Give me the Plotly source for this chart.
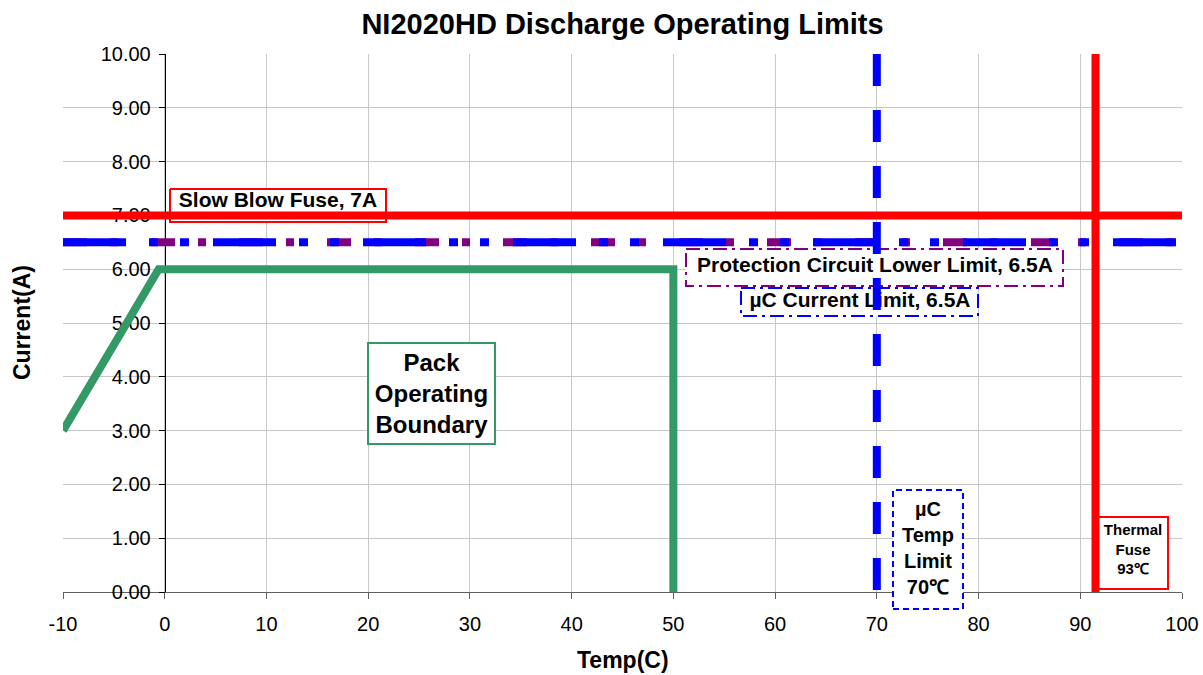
import plotly.graph_objects as go

# ---------------- data ----------------
temp_ticks = [-10, 0, 10, 20, 30, 40, 50, 60, 70, 80, 90, 100]
temp_tick_labels = ["-10", "0", "10", "20", "30", "40", "50", "60", "70", "80", "90", "100"]
current_ticks = [0, 1, 2, 3, 4, 5, 6, 7, 8, 9, 10]
current_tick_labels = ["0.00", "1.00", "2.00", "3.00", "4.00", "5.00",
                       "6.00", "7.00", "8.00", "9.00", "10.00"]

pack_temp = [-10, -0.6, 50, 50]
pack_current = [3.0, 6.0, 6.0, 0.0]

fuse_temp = [-10, 100]
fuse_current = [7.0, 7.0]

protection_temp = [-10, 100]
protection_current = [6.5, 6.5]

uc_limit_temp = [-10, 100]
uc_limit_current = [6.5, 6.5]

uc_temp_limit_temp = [70, 70]
uc_temp_limit_current = [10, 0]

thermal_temp = [91.5, 91.5]
thermal_current = [10, 0]

# ---------------- geometry helpers ----------------
W, H = 1203, 675
L, R, T, B = 63, 1182, 54, 592
XMIN, XMAX, YMIN, YMAX = -10, 100, 0, 10
FONT = "Arial, 'Liberation Sans', Helvetica, sans-serif"


def px2x(px):
    return XMIN + (px - L) / (R - L) * (XMAX - XMIN)


def px2y(py):
    return YMIN + (B - py) / (B - T) * (YMAX - YMIN)


def px2paper_x(px):
    return (px - L) / (R - L)


def px2paper_y(py):
    return (B - py) / (B - T)


fig = go.Figure()


def box_trace(x0, y0, x1, y1, color, dash, width=2):
    xs = [px2x(x0), px2x(x1), px2x(x1), px2x(x0), px2x(x0)]
    ys = [px2y(y0), px2y(y0), px2y(y1), px2y(y1), px2y(y0)]
    fig.add_trace(go.Scatter(x=xs, y=ys, mode="lines", fill="toself",
                             fillcolor="white",
                             line=dict(color=color, width=width, dash=dash),
                             hoverinfo="skip", showlegend=False))


def text_trace(cx, cy, text, size):
    fig.add_trace(go.Scatter(x=[px2x(cx)], y=[px2y(cy)], mode="text",
                             text=[text], textposition="middle center",
                             textfont=dict(size=size, color="black", family=FONT),
                             hoverinfo="skip", showlegend=False, cliponaxis=False))


# label boxes lying under the lines
box_trace(170, 189, 386, 222, "#ff0000", "solid", 2)
box_trace(686, 249, 1063, 286, "#800080", "14px,5px,3px,5px", 2)
box_trace(741, 288, 978, 316, "#0000ff", "14px,5px,3px,5px", 2)
box_trace(1098, 517, 1168, 589, "#ff0000", "solid", 2)

text_trace(278, 202, "<b>Slow Blow Fuse, 7A</b>", 21)
text_trace(875, 267, "<b>Protection Circuit Lower Limit, 6.5A</b>", 21)
text_trace(860, 302, "<b>µC Current Limit, 6.5A</b>", 21)
text_trace(1133, 551, "<b>Thermal<br>Fuse<br>93℃</b>", 15)

# ---------------- series ----------------
fig.add_trace(go.Scatter(x=pack_temp, y=pack_current, mode="lines",
                         line=dict(color="#339966", width=8),
                         hoverinfo="skip", showlegend=False))
fig.add_trace(go.Scatter(x=fuse_temp, y=fuse_current, mode="lines",
                         line=dict(color="#ff0000", width=8),
                         hoverinfo="skip", showlegend=False))
fig.add_trace(go.Scatter(x=protection_temp, y=protection_current, mode="lines",
                         line=dict(color="#800080", width=8,
                                   dash="24px,23px,8px,33px"),
                         hoverinfo="skip", showlegend=False))
fig.add_trace(go.Scatter(x=uc_limit_temp, y=uc_limit_current, mode="lines",
                         line=dict(color="#0000ff", width=8,
                                   dash="63px,23px,9px,22px,9px,24px"),
                         hoverinfo="skip", showlegend=False))
fig.add_trace(go.Scatter(x=uc_temp_limit_temp, y=uc_temp_limit_current, mode="lines",
                         line=dict(color="#0000ff", width=8, dash="32px,24px"),
                         hoverinfo="skip", showlegend=False))
fig.add_trace(go.Scatter(x=thermal_temp, y=thermal_current, mode="lines",
                         line=dict(color="#ff0000", width=8),
                         hoverinfo="skip", showlegend=False))

# ---------------- boxes drawn above ----------------
shapes = [
    dict(type="rect", xref="paper", yref="paper",
         x0=px2paper_x(893), x1=px2paper_x(963),
         y0=px2paper_y(609), y1=px2paper_y(490),
         line=dict(color="#0000ff", width=2, dash="6px,4px"),
         fillcolor="white", layer="above"),
]

annotations = [
    dict(x=px2x(431.5), y=px2y(393.5), xref="x", yref="y",
         text="<b>Pack<br>Operating<br>Boundary</b>", showarrow=False,
         font=dict(size=24, family=FONT, color="black"),
         bgcolor="white", bordercolor="#339966", borderwidth=2, borderpad=0,
         width=125, height=99, align="center", valign="middle",
         xanchor="center", yanchor="middle"),
    dict(x=px2x(928), y=px2y(548), xref="x", yref="y",
         text="<b>µC<br>Temp<br>Limit<br>70℃</b>", showarrow=False,
         font=dict(size=20, family=FONT, color="black"),
         align="center", xanchor="center", yanchor="middle"),
    dict(x=0.5, y=px2paper_y(660), xref="paper", yref="paper",
         text="<b>Temp(C)</b>", showarrow=False,
         font=dict(size=23, family=FONT, color="black"),
         xanchor="center", yanchor="middle"),
    dict(x=px2paper_x(22), y=px2paper_y(323), xref="paper", yref="paper",
         text="<b>Current(A)</b>", showarrow=False, textangle=-90,
         font=dict(size=23, family=FONT, color="black"),
         xanchor="center", yanchor="middle"),
]

fig.update_layout(
    width=W, height=H, autosize=False,
    margin=dict(l=L, r=W - R, t=T, b=H - B, autoexpand=False),
    paper_bgcolor="white", plot_bgcolor="white",
    showlegend=False,
    title=dict(text="<b>NI2020HD Discharge Operating Limits</b>",
               x=0.5, xref="paper", xanchor="center",
               y=1 - 24 / H, yref="container", yanchor="middle",
               font=dict(size=29, family=FONT, color="black")),
    xaxis=dict(range=[XMIN, XMAX], tickmode="array", automargin=False,
               tickvals=temp_ticks, ticktext=temp_tick_labels,
               showgrid=True, gridcolor="#c8c8c8", gridwidth=1,
               zeroline=False, showline=True, linecolor="#606060", linewidth=1,
               ticks="outside", ticklen=6, tickcolor="#606060",
               tickfont=dict(size=20, family=FONT, color="black"),
               ticklabelstandoff=8, layer="below traces"),
    yaxis=dict(range=[YMIN, YMAX], tickmode="array", automargin=False,
               tickvals=current_ticks, ticktext=current_tick_labels,
               anchor="free", position=(0 - XMIN) / (XMAX - XMIN),
               showgrid=True, gridcolor="#c8c8c8", gridwidth=1,
               zeroline=False, showline=True, linecolor="black", linewidth=1,
               ticks="outside", ticklen=6, tickcolor="black",
               tickfont=dict(size=20, family=FONT, color="black"),
               ticklabelstandoff=4, layer="below traces"),
    shapes=shapes,
    annotations=annotations,
)

fig.write_html("out.html", config={"displayModeBar": False},
               post_script="document.body.style.margin='0';")
